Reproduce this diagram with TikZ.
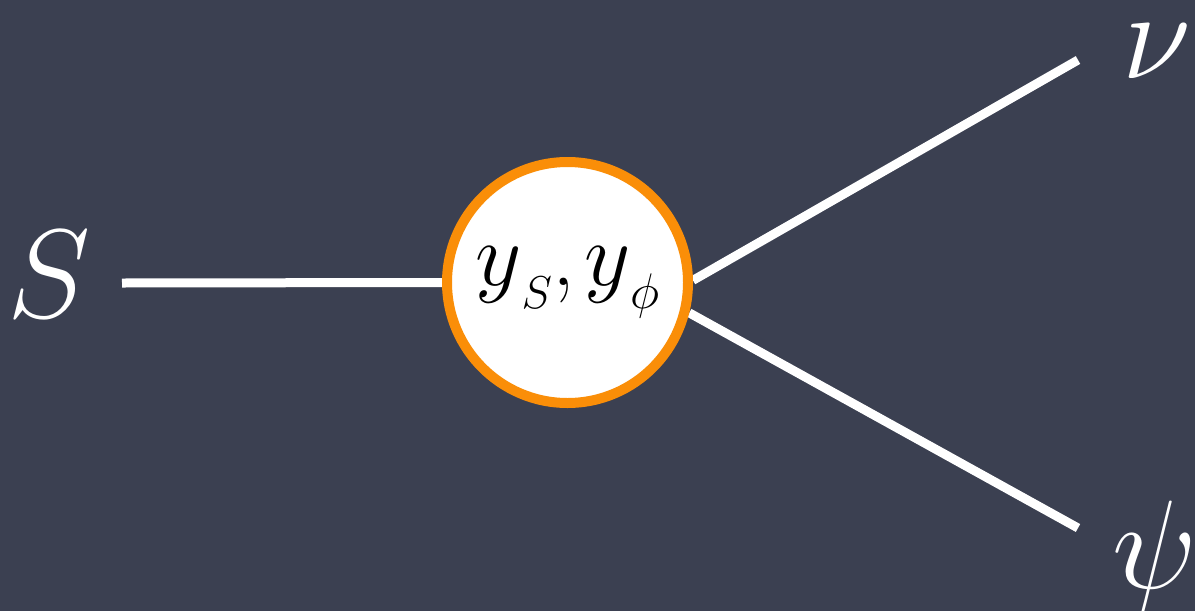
\RequirePackage{fix-cm}
\documentclass[tikz,border=0pt]{standalone}
\usetikzlibrary{backgrounds}
\definecolor{board}{RGB}{59,64,81}
\definecolor{ring}{RGB}{250,142,8}
\newcommand{\fsz}[1]{\fontsize{#1}{#1}\selectfont}
\begin{document}
\begin{tikzpicture}[x=1pt,y=-1pt,
  wire/.style={draw=white,line width=9pt},
  big/.style={text=white,font=\fsz{126},inner sep=0pt,anchor=base},
  vertex/.style={circle,draw=ring,line width=10pt,fill=white,minimum size=241pt,inner sep=0pt}]
\useasboundingbox (0,0) rectangle (1195,611);
\clip (0,0) rectangle (1195,611);
\node[vertex] (c) at (567.5,282.5) {};
\node[inner sep=0pt,anchor=base,font=\fsz{90}] (lbl) at (567.5,285)
  {$y$\raisebox{-23pt}{\fsz{46}$S$}\kern1pt,\kern9pt$y$\raisebox{-23pt}{\fsz{50}$\phi$}};
\node[big] (S) at (49,317) {$S$};
\node[big] (nu) at (1157,78) {$\nu$};
\node[big] (psi) at (1155,588) {$\psi$};
\coordinate (sEnd) at (122,283);
\coordinate (nuEnd) at (1078,60);
\coordinate (psiEnd) at (1078,528);
\begin{pgfonlayer}{background}
\fill[board] (0,0) rectangle (1195,611);
\draw[wire] (sEnd) -- (c.west);
\draw[wire] (c.1) -- (nuEnd);
\draw[wire] (c.-14) -- (psiEnd);
\end{pgfonlayer}
\end{tikzpicture}
\end{document}
